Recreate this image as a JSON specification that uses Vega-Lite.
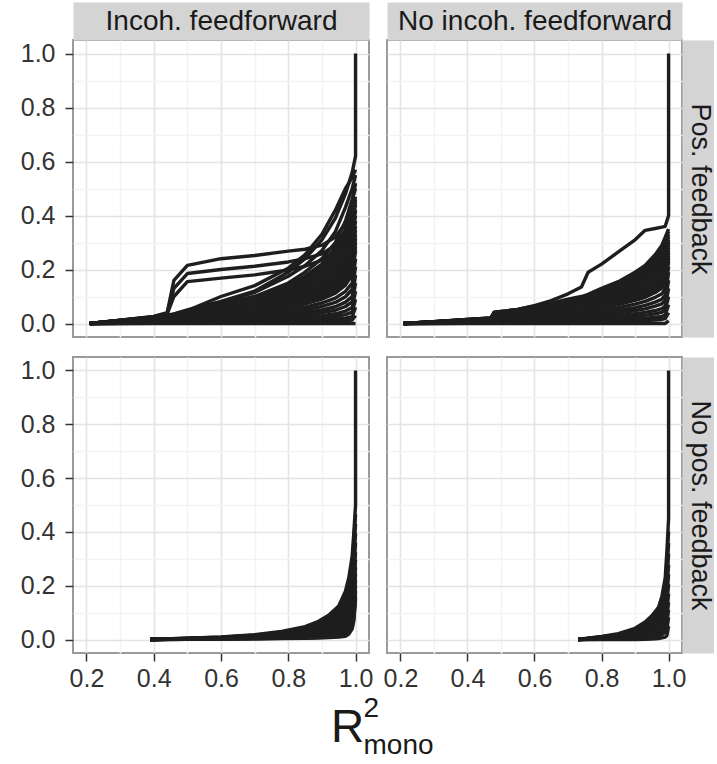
{
"$schema":"https://vega.github.io/schema/vega-lite/v6.json",
"padding":{"left":19,"top":6,"right":0,"bottom":4},
"background":"white",
"config":{
 "font":"Liberation Sans",
 "view":{"stroke":"#9a9a9a","strokeWidth":2},
 "line":{"color":"#1e1e1e","strokeWidth":3.4,"strokeJoin":"round","invalid":"filter"},
 "axis":{"domain":false,"tickColor":"#333333","tickSize":8,"tickWidth":1.5,"labelColor":"#333333","labelFontSize":25,"labelFont":"Liberation Sans","labelFlush":false,"labelOverlap":false,"title":null,"gridWidth":1.6,
  "titleFont":"Liberation Sans","titleFontSize":28,"titleFontWeight":"normal","titleColor":"#1a1a1a","titleBaseline":"middle","titleAlign":"center","domainColor":"#d4d4d4","domainCap":"butt"},
 "axisX":{"labelPadding":5},
 "axisY":{"labelPadding":10}
},
"datasets":{
"tl":[
{"o":1,"x":0.21,"j1":0,"j2":0,"j3":0,"r1":0,"r2":0,"r3":0,"r4":0,"r5":0,"m1":0,"m2":0,"m3":0,"m4":0,"m5":0,"m6":0,"m7":0,"m8":0,"m9":0,"m10":0,"m11":0,"m12":0,"m13":0,"m14":0,"m15":0,"m16":0,"n1":0,"n2":0,"n3":0,"n4":0,"n5":0,"n6":0},
{"o":2,"x":0.3,"j1":0.012,"j2":0.012,"j3":0.011,"r1":0.011,"r2":0.011,"r3":0.01,"r4":0.01,"r5":0.01,"m1":0.01,"m2":0.009,"m3":0.008,"m4":0.007,"m5":0.006,"m6":0.005,"m7":0.004,"m8":0.004,"m9":0.003,"m10":0.002,"m11":0.002,"m12":0.001,"m13":0.001,"m14":0.001,"m15":0,"m16":0,"n1":0.01,"n2":0.008,"n3":0.007,"n4":0.006,"n5":0.005,"n6":0.004},
{"o":3,"x":0.4,"j1":0.026,"j2":0.025,"j3":0.024,"r1":0.023,"r2":0.023,"r3":0.022,"r4":0.021,"r5":0.02,"m1":0.02,"m2":0.018,"m3":0.015,"m4":0.013,"m5":0.012,"m6":0.01,"m7":0.009,"m8":0.007,"m9":0.006,"m10":0.005,"m11":0.004,"m12":0.003,"m13":0.002,"m14":0.001,"m15":0.001,"m16":0,"n1":0.019,"n2":0.016,"n3":0.014,"n4":0.012,"n5":0.011,"n6":0.009},
{"o":4,"x":0.44,"j1":0.04,"j2":0.037,"j3":0.035,"r1":0.03,"r2":0.03,"r3":0.028,"r4":0.027,"r5":0.026,"m1":0.025,"m2":0.022,"m3":0.019,"m4":0.017,"m5":0.015,"m6":0.013,"m7":0.011,"m8":0.009,"m9":0.008,"m10":0.006,"m11":0.005,"m12":0.004,"m13":0.003,"m14":0.002,"m15":0.001,"m16":0,"n1":0.023,"n2":0.02,"n3":0.018,"n4":0.016,"n5":0.014,"n6":0.012},
{"o":5,"x":0.46,"j1":0.16,"j2":0.13,"j3":0.1,"r1":0.036,"r2":0.035,"r3":0.033,"r4":0.032,"r5":0.031,"m1":0.03,"m2":0.026,"m3":0.023,"m4":0.02,"m5":0.017,"m6":0.015,"m7":0.013,"m8":0.011,"m9":0.009,"m10":0.007,"m11":0.006,"m12":0.004,"m13":0.003,"m14":0.002,"m15":0.001,"m16":0,"n1":0.028,"n2":0.024,"n3":0.021,"n4":0.018,"n5":0.016,"n6":0.014},
{"o":6,"x":0.5,"j1":0.215,"j2":0.185,"j3":0.155,"r1":0.05,"r2":0.048,"r3":0.045,"r4":0.042,"r5":0.04,"m1":0.04,"m2":0.035,"m3":0.031,"m4":0.027,"m5":0.023,"m6":0.02,"m7":0.017,"m8":0.014,"m9":0.012,"m10":0.01,"m11":0.008,"m12":0.006,"m13":0.004,"m14":0.002,"m15":0.001,"m16":0,"n1":0.037,"n2":0.033,"n3":0.029,"n4":0.025,"n5":0.021,"n6":0.018},
{"o":7,"x":0.6,"j1":0.24,"j2":0.2,"j3":0.168,"r1":0.082,"r2":0.1,"r3":0.075,"r4":0.068,"r5":0.065,"m1":0.07,"m2":0.062,"m3":0.054,"m4":0.047,"m5":0.041,"m6":0.035,"m7":0.03,"m8":0.025,"m9":0.021,"m10":0.017,"m11":0.013,"m12":0.01,"m13":0.007,"m14":0.004,"m15":0.002,"m16":0,"n1":0.066,"n2":0.058,"n3":0.05,"n4":0.044,"n5":0.038,"n6":0.032},
{"o":8,"x":0.7,"j1":0.252,"j2":0.212,"j3":0.18,"r1":0.12,"r2":0.14,"r3":0.115,"r4":0.1,"r5":0.095,"m1":0.1,"m2":0.088,"m3":0.077,"m4":0.067,"m5":0.058,"m6":0.05,"m7":0.043,"m8":0.036,"m9":0.03,"m10":0.024,"m11":0.019,"m12":0.014,"m13":0.01,"m14":0.006,"m15":0.003,"m16":0,"n1":0.094,"n2":0.082,"n3":0.072,"n4":0.062,"n5":0.054,"n6":0.046},
{"o":9,"x":0.8,"j1":0.268,"j2":0.228,"j3":0.198,"r1":0.19,"r2":0.205,"r3":0.175,"r4":0.15,"r5":0.14,"m1":0.14,"m2":0.123,"m3":0.108,"m4":0.094,"m5":0.081,"m6":0.07,"m7":0.06,"m8":0.05,"m9":0.042,"m10":0.034,"m11":0.027,"m12":0.02,"m13":0.014,"m14":0.008,"m15":0.004,"m16":0,"n1":0.131,"n2":0.115,"n3":0.101,"n4":0.087,"n5":0.075,"n6":0.065},
{"o":10,"x":0.85,"j1":0.275,"j2":0.24,"j3":0.212,"r1":0.24,"r2":0.255,"r3":0.215,"r4":0.19,"r5":0.175,"m1":0.17,"m2":0.15,"m3":0.131,"m4":0.114,"m5":0.099,"m6":0.085,"m7":0.073,"m8":0.061,"m9":0.051,"m10":0.041,"m11":0.032,"m12":0.024,"m13":0.017,"m14":0.01,"m15":0.005,"m16":0,"n1":0.16,"n2":0.14,"n3":0.122,"n4":0.106,"n5":0.092,"n6":0.079},
{"o":11,"x":0.9,"j1":0.29,"j2":0.258,"j3":0.235,"r1":0.31,"r2":0.33,"r3":0.27,"r4":0.24,"r5":0.22,"m1":0.21,"m2":0.185,"m3":0.162,"m4":0.14,"m5":0.122,"m6":0.105,"m7":0.09,"m8":0.076,"m9":0.063,"m10":0.05,"m11":0.04,"m12":0.029,"m13":0.021,"m14":0.013,"m15":0.006,"m16":0,"n1":0.197,"n2":0.173,"n3":0.151,"n4":0.131,"n5":0.113,"n6":0.097},
{"o":12,"x":0.94,"j1":0.32,"j2":0.29,"j3":0.27,"r1":0.39,"r2":0.42,"r3":0.34,"r4":0.3,"r5":0.28,"m1":0.26,"m2":0.23,"m3":0.2,"m4":0.174,"m5":0.15,"m6":0.13,"m7":0.112,"m8":0.094,"m9":0.078,"m10":0.062,"m11":0.049,"m12":0.036,"m13":0.026,"m14":0.016,"m15":0.008,"m16":0,"n1":0.245,"n2":0.215,"n3":0.187,"n4":0.162,"n5":0.14,"n6":0.121},
{"o":13,"x":0.97,"j1":0.37,"j2":0.34,"j3":0.31,"r1":0.48,"r2":0.5,"r3":0.43,"r4":0.38,"r5":0.35,"m1":0.33,"m2":0.29,"m3":0.25,"m4":0.22,"m5":0.19,"m6":0.165,"m7":0.142,"m8":0.119,"m9":0.099,"m10":0.079,"m11":0.063,"m12":0.046,"m13":0.033,"m14":0.02,"m15":0.01,"m16":0,"n1":0.31,"n2":0.27,"n3":0.235,"n4":0.205,"n5":0.177,"n6":0.153},
{"o":14,"x":0.99,"j1":0.45,"j2":0.41,"j3":0.37,"r1":0.56,"r2":0.54,"r3":0.5,"r4":0.46,"r5":0.42,"m1":0.42,"m2":0.37,"m3":0.32,"m4":0.28,"m5":0.24,"m6":0.21,"m7":0.18,"m8":0.15,"m9":0.126,"m10":0.1,"m11":0.08,"m12":0.059,"m13":0.042,"m14":0.025,"m15":0.013,"m16":0,"n1":0.395,"n2":0.345,"n3":0.3,"n4":0.26,"n5":0.225,"n6":0.195},
{"o":15,"x":1.0,"j1":0.52,"j2":0.46,"j3":0.42,"r1":0.62,"r2":0.57,"r3":0.55,"r4":0.5,"r5":0.47,"m1":0.46,"m2":0.44,"m3":0.4,"m4":0.36,"m5":0.33,"m6":0.3,"m7":0.27,"m8":0.24,"m9":0.21,"m10":0.18,"m11":0.15,"m12":0.12,"m13":0.09,"m14":0.06,"m15":0.03,"m16":0,"n1":0.45,"n2":0.42,"n3":0.38,"n4":0.345,"n5":0.315,"n6":0.285},
{"o":16,"x":1.0,"r1":1.0}
],
"tr":[
{"o":1,"x":0.21,"s":0,"t1":0,"t2":0,"t3":0,"t4":0,"t5":0,"t6":0,"t7":0,"t8":0,"t9":0,"t10":0,"t11":0,"t12":0,"t13":0,"t14":0,"t15":0,"u1":0,"u2":0,"u3":0,"v1":0,"v2":0,"v3":0,"v4":0},
{"o":2,"x":0.3,"s":0.007,"t1":0.007,"t2":0.007,"t3":0.006,"t4":0.006,"t5":0.005,"t6":0.005,"t7":0.004,"t8":0.004,"t9":0.003,"t10":0.003,"t11":0.002,"t12":0.001,"t13":0.001,"t14":0,"t15":0,"u1":0.007,"u2":0.006,"u3":0.006,"v1":0.006,"v2":0.005,"v3":0.005,"v4":0.004},
{"o":3,"x":0.4,"s":0.015,"t1":0.015,"t2":0.014,"t3":0.013,"t4":0.012,"t5":0.011,"t6":0.01,"t7":0.009,"t8":0.008,"t9":0.007,"t10":0.005,"t11":0.004,"t12":0.003,"t13":0.002,"t14":0.001,"t15":0,"u1":0.015,"u2":0.013,"u3":0.012,"v1":0.012,"v2":0.011,"v3":0.01,"v4":0.009},
{"o":4,"x":0.47,"s":0.021,"t1":0.021,"t2":0.02,"t3":0.019,"t4":0.018,"t5":0.016,"t6":0.014,"t7":0.013,"t8":0.011,"t9":0.009,"t10":0.007,"t11":0.005,"t12":0.004,"t13":0.003,"t14":0.001,"t15":0,"u1":0.02,"u2":0.019,"u3":0.018,"v1":0.018,"v2":0.017,"v3":0.015,"v4":0.013},
{"o":5,"x":0.48,"s":0.042,"t1":0.042,"t2":0.038,"t3":0.034,"t4":0.029,"t5":0.025,"t6":0.016,"t7":0.014,"t8":0.012,"t9":0.01,"t10":0.008,"t11":0.006,"t12":0.004,"t13":0.003,"t14":0.002,"t15":0,"u1":0.04,"u2":0.036,"u3":0.031,"v1":0.031,"v2":0.027,"v3":0.02,"v4":0.015},
{"o":6,"x":0.55,"s":0.052,"t1":0.052,"t2":0.047,"t3":0.042,"t4":0.036,"t5":0.031,"t6":0.027,"t7":0.023,"t8":0.02,"t9":0.016,"t10":0.013,"t11":0.01,"t12":0.007,"t13":0.005,"t14":0.003,"t15":0,"u1":0.05,"u2":0.045,"u3":0.039,"v1":0.039,"v2":0.033,"v3":0.029,"v4":0.025},
{"o":7,"x":0.6,"s":0.066,"t1":0.065,"t2":0.058,"t3":0.052,"t4":0.046,"t5":0.039,"t6":0.034,"t7":0.029,"t8":0.025,"t9":0.02,"t10":0.016,"t11":0.012,"t12":0.009,"t13":0.006,"t14":0.003,"t15":0,"u1":0.062,"u2":0.055,"u3":0.049,"v1":0.049,"v2":0.042,"v3":0.036,"v4":0.031},
{"o":8,"x":0.65,"s":0.085,"t1":0.075,"t2":0.068,"t3":0.06,"t4":0.053,"t5":0.045,"t6":0.039,"t7":0.034,"t8":0.029,"t9":0.023,"t10":0.019,"t11":0.014,"t12":0.011,"t13":0.007,"t14":0.004,"t15":0,"u1":0.072,"u2":0.064,"u3":0.057,"v1":0.056,"v2":0.049,"v3":0.042,"v4":0.036},
{"o":9,"x":0.7,"s":0.11,"t1":0.09,"t2":0.081,"t3":0.072,"t4":0.063,"t5":0.054,"t6":0.047,"t7":0.041,"t8":0.034,"t9":0.028,"t10":0.023,"t11":0.017,"t12":0.013,"t13":0.008,"t14":0.005,"t15":0,"u1":0.086,"u2":0.077,"u3":0.068,"v1":0.067,"v2":0.058,"v3":0.05,"v4":0.044},
{"o":10,"x":0.74,"s":0.135,"t1":0.1,"t2":0.09,"t3":0.08,"t4":0.07,"t5":0.06,"t6":0.052,"t7":0.045,"t8":0.038,"t9":0.031,"t10":0.025,"t11":0.019,"t12":0.014,"t13":0.009,"t14":0.005,"t15":0,"u1":0.095,"u2":0.085,"u3":0.075,"v1":0.075,"v2":0.065,"v3":0.056,"v4":0.048},
{"o":11,"x":0.76,"s":0.19,"t1":0.108,"t2":0.097,"t3":0.086,"t4":0.076,"t5":0.065,"t6":0.056,"t7":0.049,"t8":0.041,"t9":0.033,"t10":0.027,"t11":0.021,"t12":0.015,"t13":0.01,"t14":0.005,"t15":0,"u1":0.103,"u2":0.092,"u3":0.081,"v1":0.081,"v2":0.07,"v3":0.06,"v4":0.052},
{"o":12,"x":0.8,"s":0.22,"t1":0.13,"t2":0.117,"t3":0.104,"t4":0.091,"t5":0.078,"t6":0.068,"t7":0.059,"t8":0.049,"t9":0.04,"t10":0.033,"t11":0.025,"t12":0.018,"t13":0.012,"t14":0.007,"t15":0,"u1":0.124,"u2":0.11,"u3":0.098,"v1":0.097,"v2":0.084,"v3":0.073,"v4":0.063},
{"o":13,"x":0.85,"s":0.265,"t1":0.155,"t2":0.14,"t3":0.124,"t4":0.109,"t5":0.093,"t6":0.081,"t7":0.07,"t8":0.059,"t9":0.048,"t10":0.039,"t11":0.029,"t12":0.022,"t13":0.014,"t14":0.008,"t15":0,"u1":0.148,"u2":0.132,"u3":0.117,"v1":0.116,"v2":0.101,"v3":0.087,"v4":0.075},
{"o":14,"x":0.9,"s":0.31,"t1":0.19,"t2":0.171,"t3":0.152,"t4":0.133,"t5":0.114,"t6":0.099,"t7":0.086,"t8":0.072,"t9":0.059,"t10":0.048,"t11":0.036,"t12":0.027,"t13":0.017,"t14":0.01,"t15":0,"u1":0.181,"u2":0.162,"u3":0.143,"v1":0.142,"v2":0.123,"v3":0.106,"v4":0.092},
{"o":15,"x":0.93,"s":0.345,"t1":0.215,"t2":0.194,"t3":0.172,"t4":0.151,"t5":0.129,"t6":0.112,"t7":0.097,"t8":0.082,"t9":0.067,"t10":0.054,"t11":0.041,"t12":0.03,"t13":0.019,"t14":0.011,"t15":0,"u1":0.205,"u2":0.183,"u3":0.162,"v1":0.161,"v2":0.14,"v3":0.12,"v4":0.104},
{"o":16,"x":0.96,"s":0.352,"t1":0.255,"t2":0.23,"t3":0.204,"t4":0.179,"t5":0.153,"t6":0.133,"t7":0.115,"t8":0.097,"t9":0.079,"t10":0.064,"t11":0.048,"t12":0.036,"t13":0.023,"t14":0.013,"t15":0,"u1":0.243,"u2":0.217,"u3":0.192,"v1":0.191,"v2":0.166,"v3":0.143,"v4":0.124},
{"o":17,"x":0.98,"s":0.357,"t1":0.29,"t2":0.26,"t3":0.232,"t4":0.203,"t5":0.174,"t6":0.151,"t7":0.131,"t8":0.11,"t9":0.09,"t10":0.073,"t11":0.055,"t12":0.041,"t13":0.026,"t14":0.015,"t15":0,"u1":0.276,"u2":0.246,"u3":0.218,"v1":0.217,"v2":0.188,"v3":0.162,"v4":0.141},
{"o":18,"x":0.99,"s":0.36,"t1":0.32,"t2":0.29,"t3":0.26,"t4":0.23,"t5":0.2,"t6":0.17,"t7":0.15,"t8":0.13,"t9":0.105,"t10":0.085,"t11":0.065,"t12":0.05,"t13":0.032,"t14":0.018,"t15":0,"u1":0.305,"u2":0.275,"u3":0.245,"v1":0.245,"v2":0.215,"v3":0.185,"v4":0.16},
{"o":19,"x":1.0,"s":0.4,"t1":0.35,"t2":0.33,"t3":0.31,"t4":0.29,"t5":0.27,"t6":0.25,"t7":0.23,"t8":0.21,"t9":0.19,"t10":0.16,"t11":0.13,"t12":0.1,"t13":0.07,"t14":0.04,"t15":0.01,"u1":0.34,"u2":0.32,"u3":0.3,"v1":0.3,"v2":0.28,"v3":0.26,"v4":0.24},
{"o":20,"x":1.0,"s":1.0}
],
"bl":[
{"o":1,"x":0.39,"b1":0,"b2":0,"b3":0,"b4":0,"b5":0,"b6":0,"b7":0,"b8":0,"b9":0,"b10":0,"b11":0,"b12":0,"b13":0,"b14":0},
{"o":2,"x":0.5,"b1":0.005,"b2":0.005,"b3":0.004,"b4":0.004,"b5":0.003,"b6":0.003,"b7":0.003,"b8":0.002,"b9":0.002,"b10":0.002,"b11":0.002,"b12":0.001,"b13":0.001,"b14":0.001},
{"o":3,"x":0.6,"b1":0.01,"b2":0.009,"b3":0.008,"b4":0.007,"b5":0.006,"b6":0.006,"b7":0.005,"b8":0.005,"b9":0.004,"b10":0.004,"b11":0.003,"b12":0.003,"b13":0.002,"b14":0.002},
{"o":4,"x":0.7,"b1":0.018,"b2":0.016,"b3":0.015,"b4":0.014,"b5":0.012,"b6":0.011,"b7":0.009,"b8":0.008,"b9":0.007,"b10":0.006,"b11":0.005,"b12":0.004,"b13":0.003,"b14":0.003},
{"o":5,"x":0.78,"b1":0.03,"b2":0.027,"b3":0.025,"b4":0.022,"b5":0.02,"b6":0.017,"b7":0.015,"b8":0.013,"b9":0.011,"b10":0.009,"b11":0.008,"b12":0.006,"b13":0.005,"b14":0.004},
{"o":6,"x":0.85,"b1":0.048,"b2":0.044,"b3":0.039,"b4":0.035,"b5":0.031,"b6":0.027,"b7":0.023,"b8":0.02,"b9":0.017,"b10":0.014,"b11":0.011,"b12":0.008,"b13":0.006,"b14":0.005},
{"o":7,"x":0.89,"b1":0.068,"b2":0.062,"b3":0.056,"b4":0.049,"b5":0.043,"b6":0.037,"b7":0.032,"b8":0.027,"b9":0.023,"b10":0.018,"b11":0.014,"b12":0.011,"b13":0.008,"b14":0.006},
{"o":8,"x":0.92,"b1":0.09,"b2":0.082,"b3":0.073,"b4":0.065,"b5":0.057,"b6":0.049,"b7":0.042,"b8":0.035,"b9":0.029,"b10":0.024,"b11":0.019,"b12":0.013,"b13":0.009,"b14":0.007},
{"o":9,"x":0.95,"b1":0.125,"b2":0.113,"b3":0.102,"b4":0.09,"b5":0.079,"b6":0.067,"b7":0.058,"b8":0.049,"b9":0.04,"b10":0.032,"b11":0.025,"b12":0.018,"b13":0.013,"b14":0.009},
{"o":10,"x":0.97,"b1":0.18,"b2":0.163,"b3":0.146,"b4":0.13,"b5":0.113,"b6":0.096,"b7":0.083,"b8":0.069,"b9":0.058,"b10":0.046,"b11":0.036,"b12":0.026,"b13":0.017,"b14":0.012},
{"o":11,"x":0.98,"b1":0.23,"b2":0.209,"b3":0.188,"b4":0.167,"b5":0.146,"b6":0.125,"b7":0.108,"b8":0.091,"b9":0.077,"b10":0.062,"b11":0.05,"b12":0.038,"b13":0.026,"b14":0.02},
{"o":12,"x":0.99,"b1":0.31,"b2":0.283,"b3":0.256,"b4":0.229,"b5":0.202,"b6":0.175,"b7":0.153,"b8":0.131,"b9":0.112,"b10":0.094,"b11":0.078,"b12":0.062,"b13":0.048,"b14":0.04},
{"o":13,"x":0.995,"b1":0.4,"b2":0.367,"b3":0.334,"b4":0.301,"b5":0.268,"b6":0.235,"b7":0.209,"b8":0.182,"b9":0.159,"b10":0.136,"b11":0.116,"b12":0.096,"b13":0.08,"b14":0.07},
{"o":14,"x":1.0,"b1":0.5,"b2":0.465,"b3":0.43,"b4":0.395,"b5":0.36,"b6":0.325,"b7":0.297,"b8":0.269,"b9":0.245,"b10":0.22,"b11":0.2,"b12":0.18,"b13":0.16,"b14":0.15},
{"o":15,"x":1.0,"b1":1.0}
],
"br":[
{"o":1,"x":0.73,"c1":0,"c2":0,"c3":0,"c4":0,"c5":0,"c6":0,"c7":0,"c8":0,"c9":0,"c10":0,"c11":0,"c12":0},
{"o":2,"x":0.8,"c1":0.012,"c2":0.011,"c3":0.009,"c4":0.008,"c5":0.007,"c6":0.006,"c7":0.005,"c8":0.004,"c9":0.003,"c10":0.002,"c11":0.001,"c12":0},
{"o":3,"x":0.85,"c1":0.022,"c2":0.019,"c3":0.017,"c4":0.015,"c5":0.013,"c6":0.011,"c7":0.009,"c8":0.007,"c9":0.005,"c10":0.003,"c11":0.002,"c12":0},
{"o":4,"x":0.9,"c1":0.042,"c2":0.037,"c3":0.032,"c4":0.028,"c5":0.024,"c6":0.02,"c7":0.016,"c8":0.013,"c9":0.009,"c10":0.006,"c11":0.003,"c12":0},
{"o":5,"x":0.93,"c1":0.065,"c2":0.057,"c3":0.05,"c4":0.044,"c5":0.037,"c6":0.032,"c7":0.026,"c8":0.02,"c9":0.015,"c10":0.011,"c11":0.006,"c12":0.001},
{"o":6,"x":0.95,"c1":0.088,"c2":0.078,"c3":0.068,"c4":0.06,"c5":0.051,"c6":0.043,"c7":0.036,"c8":0.028,"c9":0.021,"c10":0.015,"c11":0.009,"c12":0.002},
{"o":7,"x":0.97,"c1":0.12,"c2":0.106,"c3":0.093,"c4":0.082,"c5":0.07,"c6":0.06,"c7":0.049,"c8":0.039,"c9":0.03,"c10":0.021,"c11":0.013,"c12":0.004},
{"o":8,"x":0.98,"c1":0.16,"c2":0.142,"c3":0.125,"c4":0.11,"c5":0.094,"c6":0.081,"c7":0.066,"c8":0.052,"c9":0.04,"c10":0.029,"c11":0.018,"c12":0.006},
{"o":9,"x":0.99,"c1":0.23,"c2":0.204,"c3":0.179,"c4":0.157,"c5":0.135,"c6":0.115,"c7":0.095,"c8":0.075,"c9":0.058,"c10":0.043,"c11":0.027,"c12":0.009},
{"o":10,"x":0.995,"c1":0.33,"c2":0.292,"c3":0.258,"c4":0.226,"c5":0.195,"c6":0.166,"c7":0.138,"c8":0.11,"c9":0.085,"c10":0.063,"c11":0.041,"c12":0.015},
{"o":11,"x":1.0,"c1":0.45,"c2":0.402,"c3":0.358,"c4":0.318,"c5":0.278,"c6":0.242,"c7":0.206,"c8":0.17,"c9":0.138,"c10":0.11,"c11":0.082,"c12":0.05},
{"o":12,"x":1.0,"c1":1.0}
]
},
"bounds":"flush",
"columns":2,
"spacing":{"row":20,"column":18},
"concat":[
 {"width":296,"height":297,"data":{"name":"tl"},
  "transform":[{"fold":["j1","j2","j3","r1","r2","r3","r4","r5","m1","m2","m3","m4","m5","m6","m7","m8","m9","m10","m11","m12","m13","m14","m15","m16","n1","n2","n3","n4","n5","n6"],"as":["k","v"]}],
  "mark":{"type":"line","clip":true},
  "encoding":{
   "x":{"field":"x","type":"quantitative","scale":{"domain":[0.16,1.04],"nice":false,"zero":false},"axis":{"orient":"top","values":[0.2,0.3,0.4,0.5,0.6,0.7,0.8,0.9,1.0],"labels":false,"ticks":false,"domain":true,"domainWidth":38,"offset":19,"title":"Incoh. feedforward","titleX":148,"titleY":0,"gridColor":{"condition":{"test":"round(datum.value*10)%2==1","value":"#f3f3f3"},"value":"#e4e4e4"}}},
   "y":{"field":"v","type":"quantitative","scale":{"domain":[-0.05,1.05],"nice":false,"zero":false},"axis":{"values":[0,0.1,0.2,0.3,0.4,0.5,0.6,0.7,0.8,0.9,1.0],"labelExpr":"round(datum.value*10)%2==1 ? '' : format(datum.value,'.1f')","tickOpacity":{"condition":{"test":"round(datum.value*10)%2==1","value":0},"value":1},"gridColor":{"condition":{"test":"round(datum.value*10)%2==1","value":"#f3f3f3"},"value":"#e4e4e4"}}},
   "detail":{"field":"k"},
   "order":{"field":"o","type":"quantitative"}}},
 {"width":295,"height":297,"data":{"name":"tr"},
  "transform":[{"fold":["s","t1","t2","t3","t4","t5","t6","t7","t8","t9","t10","t11","t12","t13","t14","t15","u1","u2","u3","v1","v2","v3","v4"],"as":["k","v"]}],
  "mark":{"type":"line","clip":true},
  "encoding":{
   "x":{"field":"x","type":"quantitative","scale":{"domain":[0.16,1.04],"nice":false,"zero":false},"axis":{"orient":"top","values":[0.2,0.3,0.4,0.5,0.6,0.7,0.8,0.9,1.0],"labels":false,"ticks":false,"domain":true,"domainWidth":38,"offset":19,"title":"No incoh. feedforward","titleX":147.5,"titleY":0,"gridColor":{"condition":{"test":"round(datum.value*10)%2==1","value":"#f3f3f3"},"value":"#e4e4e4"}}},
   "y":{"field":"v","type":"quantitative","scale":{"domain":[-0.05,1.05],"nice":false,"zero":false},"axis":{"orient":"right","values":[0,0.1,0.2,0.3,0.4,0.5,0.6,0.7,0.8,0.9,1.0],"labels":false,"ticks":false,"domain":true,"domainWidth":36,"offset":18,"title":"Pos. feedback","titleFontSize":27,"titleAngle":90,"titleX":-1,"titleY":148.5,"gridColor":{"condition":{"test":"round(datum.value*10)%2==1","value":"#f3f3f3"},"value":"#e4e4e4"}}},
   "detail":{"field":"k"},
   "order":{"field":"o","type":"quantitative"}}},
 {"width":296,"height":296,"data":{"name":"bl"},
  "transform":[{"fold":["b1","b2","b3","b4","b5","b6","b7","b8","b9","b10","b11","b12","b13","b14"],"as":["k","v"]}],
  "mark":{"type":"line","clip":true},
  "encoding":{
   "x":{"field":"x","type":"quantitative","scale":{"domain":[0.16,1.04],"nice":false,"zero":false},"axis":{"values":[0.2,0.3,0.4,0.5,0.6,0.7,0.8,0.9,1.0],"labelExpr":"round(datum.value*10)%2==1 ? '' : format(datum.value,'.1f')","tickOpacity":{"condition":{"test":"round(datum.value*10)%2==1","value":0},"value":1},"gridColor":{"condition":{"test":"round(datum.value*10)%2==1","value":"#f3f3f3"},"value":"#e4e4e4"},"title":"R","titleFontSize":46,"titleBaseline":"alphabetic","titleX":274,"titleY":88}},
   "y":{"field":"v","type":"quantitative","scale":{"domain":[-0.05,1.05],"nice":false,"zero":false},"axis":{"values":[0,0.1,0.2,0.3,0.4,0.5,0.6,0.7,0.8,0.9,1.0],"labelExpr":"round(datum.value*10)%2==1 ? '' : format(datum.value,'.1f')","tickOpacity":{"condition":{"test":"round(datum.value*10)%2==1","value":0},"value":1},"gridColor":{"condition":{"test":"round(datum.value*10)%2==1","value":"#f3f3f3"},"value":"#e4e4e4"}}},
   "detail":{"field":"k"},
   "order":{"field":"o","type":"quantitative"}}},
 {"width":295,"height":296,"data":{"name":"br"},
  "transform":[{"fold":["c1","c2","c3","c4","c5","c6","c7","c8","c9","c10","c11","c12"],"as":["k","v"]}],
  "mark":{"type":"line","clip":true},
  "encoding":{
   "x":{"field":"x","type":"quantitative","scale":{"domain":[0.16,1.04],"nice":false,"zero":false},"axis":{"values":[0.2,0.3,0.4,0.5,0.6,0.7,0.8,0.9,1.0],"labelExpr":"round(datum.value*10)%2==1 ? '' : format(datum.value,'.1f')","tickOpacity":{"condition":{"test":"round(datum.value*10)%2==1","value":0},"value":1},"gridColor":{"condition":{"test":"round(datum.value*10)%2==1","value":"#f3f3f3"},"value":"#e4e4e4"},"title":["2","mono"],"titleFontSize":28,"titleAlign":"left","titleBaseline":"alphabetic","titleLineHeight":37,"titleX":-24,"titleY":63}},
   "y":{"field":"v","type":"quantitative","scale":{"domain":[-0.05,1.05],"nice":false,"zero":false},"axis":{"orient":"right","values":[0,0.1,0.2,0.3,0.4,0.5,0.6,0.7,0.8,0.9,1.0],"labels":false,"ticks":false,"domain":true,"domainWidth":36,"offset":18,"title":"No pos. feedback","titleFontSize":27,"titleAngle":90,"titleX":-1,"titleY":148,"gridColor":{"condition":{"test":"round(datum.value*10)%2==1","value":"#f3f3f3"},"value":"#e4e4e4"}}},
   "detail":{"field":"k"},
   "order":{"field":"o","type":"quantitative"}}}
]
}
